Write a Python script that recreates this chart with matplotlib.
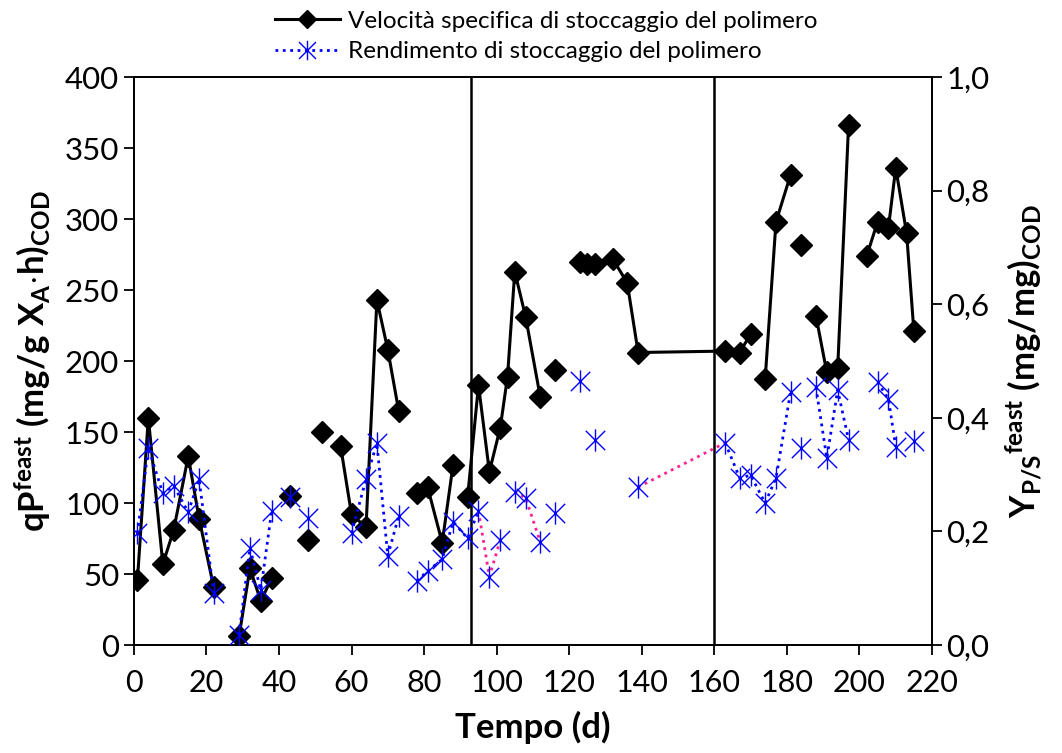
import matplotlib
matplotlib.use("Agg")
import matplotlib.pyplot as plt
import numpy as np
from matplotlib.lines import Line2D
from matplotlib.path import Path

# qP feast (left axis); None = break in the line
q_day = [1, 4, 8, 11, 15, 18, 22, None,
         29, 32, 35, 38, None, 43, None, 48, None, 52, None,
         57, 60, 64, 67, 70, 73, None,
         78, 81, 85, 88, None,
         92, 95, 98, 101, 103, 105, 108, 112, None, 116, None,
         123, 125, 127, 132, 136, 139, 163, 167, 170, None,
         174, 177, 181, None, 184, None,
         188, 191, 194, 197, None,
         202, 205, 208, 210, 213, 215]
q_val = [46, 160, 57, 81, 133, 89, 41, None,
         6, 54, 31, 47, None, 105, None, 74, None, 150, None,
         140, 92, 83, 243, 208, 165, None,
         107, 111, 72, 127, None,
         104, 183, 122, 153, 189, 263, 231, 175, None, 194, None,
         270, 268, 268, 272, 255, 206, 207, 206, 219, None,
         187, 298, 331, None, 282, None,
         232, 192, 195, 366, None,
         274, 298, 294, 336, 290, 221]

# Y P/S feast (right axis)
y_day = [1, 4, 8, 11, 15, 18, 22, None,
         29, 32, 35, 38, None, 43, None, 48, None,
         60, 64, 67, 70, 73, None,
         78, 81, 85, 88, 92, 95, None, 98, None, 101, None,
         105, None, 108, None, 112, None, 116, None, 123, None, 127, None, 139, None,
         163, 167, 170, 174, 177, 181, None, 184, None,
         188, 191, 194, 197, None,
         205, 208, 210, None, 215]
y_val = [0.197, 0.347, 0.267, 0.280, 0.234, 0.292, 0.092, None,
         0.018, 0.171, 0.097, 0.236, None, 0.261, None, 0.223, None,
         0.197, 0.292, 0.355, 0.157, 0.227, None,
         0.113, 0.130, 0.151, 0.217, 0.188, 0.236, None, 0.120, None, 0.185, None,
         0.270, None, 0.259, None, 0.182, None, 0.233, None, 0.465, None, 0.361, None, 0.278, None,
         0.356, 0.294, 0.299, 0.250, 0.294, 0.445, None, 0.347, None,
         0.454, 0.329, 0.449, 0.361, None,
         0.463, 0.433, 0.349, None, 0.359]

# pink dotted links between some yield points
pink_day = [95, 98, 101, None, 105, 108, 112, None, 139, 163]
pink_val = [0.236, 0.120, 0.185, None, 0.270, 0.259, 0.182, None, 0.278, 0.356]

phase_days = [93, 160]


def arr(a):
    return np.array([np.nan if v is None else v for v in a], dtype=float)


plt.rcParams["font.family"] = ["Lato", "DejaVu Sans"]
plt.rcParams["mathtext.fontset"] = "custom"
plt.rcParams["mathtext.rm"] = "Lato"
plt.rcParams["mathtext.bf"] = "Lato:bold"
plt.rcParams["mathtext.it"] = "Lato:italic"

asterisk = Path([(-1, -1), (1, 1), (-1, 1), (1, -1), (0, -1.15), (0, 1.15)],
                [Path.MOVETO, Path.LINETO, Path.MOVETO, Path.LINETO, Path.MOVETO, Path.LINETO])

fig = plt.figure(figsize=(10.62, 7.53), dpi=100)
ax = fig.add_axes([0.126, 0.1434, 0.7516, 0.7543])
ax2 = ax.twinx()

ax.plot(arr(q_day), arr(q_val), color="black", lw=2.2, marker="D", ms=11, zorder=3)
for d in phase_days:
    ax.axvline(d, color="black", lw=1.8, zorder=2)

ax2.plot(arr(pink_day), arr(pink_val), color="#ff1f8f", lw=2, ls=":", zorder=3)
ax2.plot(arr(y_day), arr(y_val), color="#0000ff", lw=2, ls=":", marker=asterisk,
         ms=16, mfc="none", mec="#0000ff", mew=1.0, zorder=4)

ax.set_xlim(0, 220)
ax.set_ylim(0, 400)
ax2.set_ylim(0, 1)
ax.set_xticks(np.arange(0, 221, 20))
ax.set_yticks(np.arange(0, 401, 50))
ax2.set_yticks(np.arange(0, 1.01, 0.2))
ax2.set_yticklabels([f"{v:.1f}".replace(".", ",") for v in np.arange(0, 1.01, 0.2)])

for a in (ax, ax2):
    for s in a.spines.values():
        s.set_linewidth(1.3)
    a.tick_params(direction="out", length=7, width=1.3, labelsize=22.5)
ax.tick_params(axis="x", labelsize=22, pad=10)

ax.set_xlabel("Tempo (d)", fontsize=25, fontweight="bold", labelpad=10)
ax.set_ylabel(r"$\mathbf{qP^{feast}\ (mg/g\ X_A{\cdot}h)_{COD}}$", fontsize=25, labelpad=8)
ax2.set_ylabel(r"$\mathbf{Y_{P/S}{}^{feast}\ (mg/mg)_{COD}}$", fontsize=25, rotation=90, labelpad=10)

handles = [
    Line2D([], [], color="black", lw=2.2, marker="D", ms=9),
    Line2D([], [], color="#0000ff", lw=2, ls=":", marker=asterisk, ms=14, mfc="none", mec="#0000ff", mew=1.0),
]
labels = ["Velocità specifica di stoccaggio del polimero", "Rendimento di stoccaggio del polimero"]
fig.legend(handles, labels, loc="upper left", bbox_to_anchor=(0.238, 1.015), frameon=False,
           fontsize=17.5, handlelength=2.7, labelspacing=0.4, handletextpad=0.3)

fig.savefig("out.png", dpi=100)
